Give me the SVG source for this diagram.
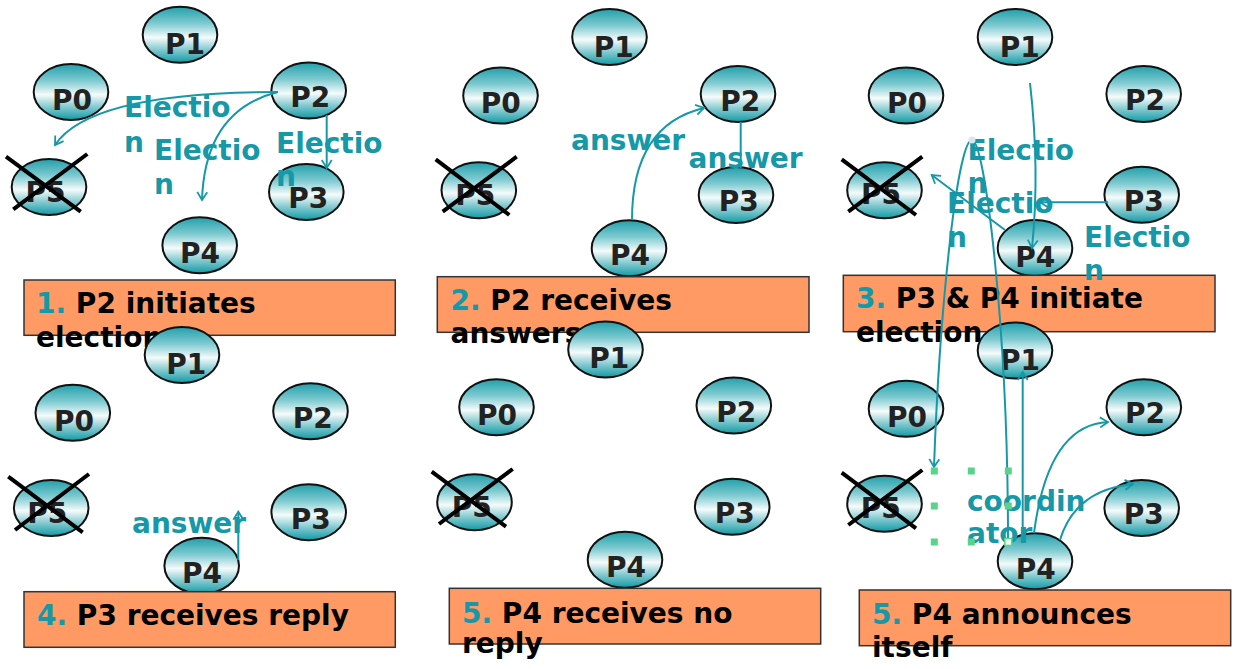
<svg xmlns="http://www.w3.org/2000/svg" width="1241" height="669" viewBox="0 0 1241 669">
<defs>
<linearGradient id="g" x1="0" y1="0" x2="0" y2="1">
<stop offset="0" stop-color="#22a0ab"/>
<stop offset="0.3" stop-color="#7ecad0"/>
<stop offset="0.55" stop-color="#f5fbfb"/>
<stop offset="0.78" stop-color="#7cc7cd"/>
<stop offset="1" stop-color="#129aa5"/>
</linearGradient>
<marker id="ah" viewBox="0 0 12 12" refX="10" refY="6" markerWidth="12" markerHeight="12" markerUnits="userSpaceOnUse" orient="auto">
<path d="M2,1 L10,6 L2,11" fill="none" stroke="#1598a7" stroke-width="1.8"/>
</marker>
<style>
.e{fill:url(#g);stroke:#111;stroke-width:2}
.n{font-family:"DejaVu Sans",sans-serif;font-weight:bold;font-size:28px;fill:#222;text-anchor:middle}
.x{stroke:#000;stroke-width:4}
.cap rect{fill:#ff9a64;stroke:#333;stroke-width:1.5}
.cap text{font-family:"DejaVu Sans",sans-serif;font-weight:bold;font-size:28px;fill:#000}
.num{fill:#1598a7}
.t{font-family:"DejaVu Sans",sans-serif;font-weight:bold;font-size:28px;fill:#1598a7}
.c{fill:none;stroke:#1598a7;stroke-width:2}
.a{marker-end:url(#ah)}
.h{fill:#58d38a}
</style>
</defs>

<!-- Panel 1 -->
<g id="p1-P1"><ellipse class="e" cx="180" cy="34.7" rx="37.3" ry="28"/><text class="n" x="185" y="54.3">P1</text></g>
<g id="p1-P0"><ellipse class="e" cx="71" cy="92" rx="37.3" ry="28"/><text class="n" x="72" y="110">P0</text></g>
<g id="p1-P2"><ellipse class="e" cx="308.7" cy="90.5" rx="37.3" ry="28"/><text class="n" x="310.3" y="107.3">P2</text></g>
<g id="p1-P5"><ellipse class="e" cx="49" cy="187" rx="37.3" ry="28"/><text class="n" x="45.5" y="201.7">P5</text><line class="x" x1="6" y1="156.7" x2="80.7" y2="211.7"/><line class="x" x1="87.3" y1="154" x2="13.3" y2="209.3"/></g>
<g id="p1-P3"><ellipse class="e" cx="306.3" cy="192" rx="37.3" ry="28"/><text class="n" x="308.3" y="208.3">P3</text></g>
<g id="p1-P4"><ellipse class="e" cx="199.7" cy="245.3" rx="37.3" ry="28"/><text class="n" x="200" y="263.3">P4</text></g>
<g id="cap1" class="cap"><rect x="24" y="280" width="371.3" height="55.3"/><text x="36" y="313.3"><tspan class="num">1.</tspan> P2 initiates</text><text x="36" y="346.7">election</text></g>

<!-- Panel 2 -->
<g id="p2-P1"><ellipse class="e" cx="609.5" cy="37" rx="37.3" ry="28"/><text class="n" x="613.7" y="57.3">P1</text></g>
<g id="p2-P0"><ellipse class="e" cx="500.5" cy="95.5" rx="37.3" ry="28"/><text class="n" x="500.7" y="113.3">P0</text></g>
<g id="p2-P2"><ellipse class="e" cx="738" cy="94" rx="37.3" ry="28"/><text class="n" x="740.3" y="110.7">P2</text></g>
<g id="p2-P5"><ellipse class="e" cx="478.8" cy="190.3" rx="37.3" ry="28"/><text class="n" x="475.3" y="205">P5</text><line class="x" x1="435.7" y1="159.3" x2="509.3" y2="215"/><line class="x" x1="516.7" y1="156.7" x2="442.7" y2="211.7"/></g>
<g id="p2-P3"><ellipse class="e" cx="736" cy="195" rx="37.3" ry="28"/><text class="n" x="738.8" y="210.7">P3</text></g>
<g id="p2-P4"><ellipse class="e" cx="629" cy="248.3" rx="37.3" ry="28"/><text class="n" x="630" y="265">P4</text></g>
<g id="cap2" class="cap"><rect x="437.3" y="276.7" width="371.7" height="55.6"/><text x="450.5" y="310"><tspan class="num">2.</tspan> P2 receives</text><text x="450.5" y="343.3">answers</text></g>

<!-- Panel 3 -->
<g id="p3-P1"><ellipse class="e" cx="1015" cy="37" rx="37.3" ry="28"/><text class="n" x="1019.7" y="56.7">P1</text></g>
<g id="p3-P0"><ellipse class="e" cx="906" cy="95.5" rx="37.3" ry="28"/><text class="n" x="907" y="113.3">P0</text></g>
<g id="p3-P2"><ellipse class="e" cx="1143.7" cy="94" rx="37.3" ry="28"/><text class="n" x="1145" y="110">P2</text></g>
<g id="p3-P5"><ellipse class="e" cx="884.5" cy="190.3" rx="37.3" ry="28"/><text class="n" x="881" y="204">P5</text><line class="x" x1="841.7" y1="159.3" x2="916" y2="215"/><line class="x" x1="922.3" y1="156.7" x2="848.3" y2="211.7"/></g>
<g id="p3-P3"><ellipse class="e" cx="1141.7" cy="194.7" rx="37.3" ry="28"/><text class="n" x="1143.7" y="210.7">P3</text></g>
<g id="p3-P4"><ellipse class="e" cx="1035" cy="248" rx="37.3" ry="28"/><text class="n" x="1035.3" y="266.7">P4</text></g>
<g id="cap3" class="cap"><rect x="843.3" y="275.3" width="371.7" height="56.4"/><text x="856" y="308.3"><tspan class="num">3.</tspan> P3 &amp; P4 initiate</text><text x="856" y="341.7">election</text></g>

<!-- Panel 4 -->
<g id="p4-P1"><ellipse class="e" cx="182" cy="355" rx="37.3" ry="28"/><text class="n" x="186.3" y="374.3">P1</text></g>
<g id="p4-P0"><ellipse class="e" cx="72.8" cy="412.8" rx="37.3" ry="28"/><text class="n" x="74" y="430.7">P0</text></g>
<g id="p4-P2"><ellipse class="e" cx="310.5" cy="411.3" rx="37.3" ry="28"/><text class="n" x="312.8" y="428.3">P2</text></g>
<g id="p4-P5"><ellipse class="e" cx="51.2" cy="508" rx="37.3" ry="28"/><text class="n" x="47.2" y="522.7">P5</text><line class="x" x1="8.3" y1="476.7" x2="82.7" y2="532.3"/><line class="x" x1="89" y1="474" x2="15" y2="530"/></g>
<g id="p4-P3"><ellipse class="e" cx="308.7" cy="512.2" rx="37.3" ry="28"/><text class="n" x="310.7" y="529.3">P3</text></g>
<g id="p4-P4"><ellipse class="e" cx="201.7" cy="565.8" rx="37.3" ry="28"/><text class="n" x="202" y="583.3">P4</text></g>
<g id="cap4" class="cap"><rect x="24" y="591.7" width="371.3" height="55.6"/><text x="37" y="625"><tspan class="num">4.</tspan> P3 receives reply</text></g>

<!-- Panel 5 -->
<g id="p5-P1"><ellipse class="e" cx="605.5" cy="349.5" rx="37.3" ry="28"/><text class="n" x="609.3" y="368.3">P1</text></g>
<g id="p5-P0"><ellipse class="e" cx="496.5" cy="407.2" rx="37.3" ry="28"/><text class="n" x="497" y="425">P0</text></g>
<g id="p5-P2"><ellipse class="e" cx="733.8" cy="405.5" rx="37.3" ry="28"/><text class="n" x="736.3" y="422.3">P2</text></g>
<g id="p5-P5"><ellipse class="e" cx="474.5" cy="502.2" rx="37.3" ry="28"/><text class="n" x="471.7" y="516.7">P5</text><line class="x" x1="431.7" y1="471.7" x2="506" y2="526.7"/><line class="x" x1="512.7" y1="469" x2="439" y2="524"/></g>
<g id="p5-P3"><ellipse class="e" cx="732.2" cy="506.7" rx="37.3" ry="28"/><text class="n" x="734.7" y="523.3">P3</text></g>
<g id="p5-P4"><ellipse class="e" cx="625" cy="559.7" rx="37.3" ry="28"/><text class="n" x="626" y="577.3">P4</text></g>
<g id="cap5" class="cap"><rect x="449.3" y="588.3" width="371.4" height="55.7"/><text x="462" y="622.7"><tspan class="num">5.</tspan> P4 receives no</text><text x="462" y="653.3">reply</text></g>

<!-- Panel 6 -->
<g id="p6-P1"><ellipse class="e" cx="1015" cy="350.5" rx="37.3" ry="28"/><text class="n" x="1020" y="370">P1</text></g>
<g id="p6-P0"><ellipse class="e" cx="906" cy="408.7" rx="37.3" ry="28"/><text class="n" x="907" y="426.7">P0</text></g>
<g id="p6-P2"><ellipse class="e" cx="1143.8" cy="407.2" rx="37.3" ry="28"/><text class="n" x="1145" y="423.3">P2</text></g>
<g id="p6-P5"><ellipse class="e" cx="884.5" cy="503.7" rx="37.3" ry="28"/><text class="n" x="880.8" y="518.3">P5</text><line class="x" x1="841.7" y1="472.7" x2="916" y2="528.3"/><line class="x" x1="922.3" y1="470" x2="848.3" y2="525"/></g>
<g id="p6-P3"><ellipse class="e" cx="1141.7" cy="508" rx="37.3" ry="28"/><text class="n" x="1143.7" y="524">P3</text></g>
<g id="p6-P4"><ellipse class="e" cx="1035" cy="561.3" rx="37.3" ry="28"/><text class="n" x="1035.7" y="579.3">P4</text></g>
<g id="cap6" class="cap"><rect x="859.3" y="590" width="371.4" height="55.7"/><text x="872" y="624"><tspan class="num">5.</tspan> P4 announces</text><text x="872" y="656.7">itself</text></g>

<!-- Connector labels -->
<g id="labels">
<text class="t" x="124" y="117">Electio</text><text class="t" x="124" y="151.7">n</text>
<text class="t" x="154" y="160">Electio</text><text class="t" x="154" y="194.3">n</text>
<text class="t" x="276" y="152.7">Electio</text><text class="t" x="276" y="185.5">n</text>
<text class="t" x="571" y="150">answer</text>
<text class="t" x="688.5" y="168.3">answer</text>
<text class="t" x="967.5" y="160">Electio</text><text class="t" x="967.5" y="193.3">n</text>
<text class="t" x="947" y="213.3">Electio</text><text class="t" x="947" y="246.7">n</text>
<text class="t" x="1084" y="246.7">Electio</text><text class="t" x="1084" y="280">n</text>
<text class="t" x="132" y="532.7">answer</text>
<text class="t" x="967" y="510.7">coordin</text><text class="t" x="967" y="542.7">ator</text>
</g>

<!-- Connectors -->
<g id="connectors">
<path class="c a" d="M278,92 Q90,92 55,145"/>
<path class="c a" d="M278,92 Q205,110 202,200"/>
<path class="c a" d="M326.7,115 L326.7,168"/>
<path class="c a" d="M632,220 Q632,125 704,108"/>
<path class="c" d="M740.7,122 L740.7,168"/>
<path class="c a" d="M1108,202.3 L1040,202.3"/>
<path class="c a" d="M1030,83 Q1040,170 1032,248"/>
<path class="c a" d="M1005,230 L931.7,175"/>
<path class="c a" d="M1008,540 C1008,330 985,140 972,140 C958,140 940,300 934,467"/>
<circle cx="972" cy="140" r="3.5" fill="#d8e6ea"/>
<path class="c a" d="M238.3,560 L238.3,511.7"/>
<path class="c a" d="M1022.7,533 L1022.7,372"/>
<path class="c a" d="M1034,533 Q1048,425 1108,422"/>
<path class="c a" d="M1060,540 Q1075,490 1133,484"/>
</g>

<!-- Selection handles -->
<g id="handles">
<rect class="h" x="930.8" y="467.5" width="7" height="7"/>
<rect class="h" x="967.8" y="467.5" width="7" height="7"/>
<rect class="h" x="1004.8" y="467.5" width="7" height="7"/>
<rect class="h" x="930.8" y="502.5" width="7" height="7"/>
<rect class="h" x="1004.8" y="502.5" width="7" height="7"/>
<rect class="h" x="930.8" y="538.5" width="7" height="7"/>
<rect class="h" x="967.8" y="538.5" width="7" height="7"/>
<rect x="1004.8" y="538.5" width="7" height="7" fill="#eaf8f0" stroke="#58d38a" stroke-width="1.5"/>
</g>
</svg>
